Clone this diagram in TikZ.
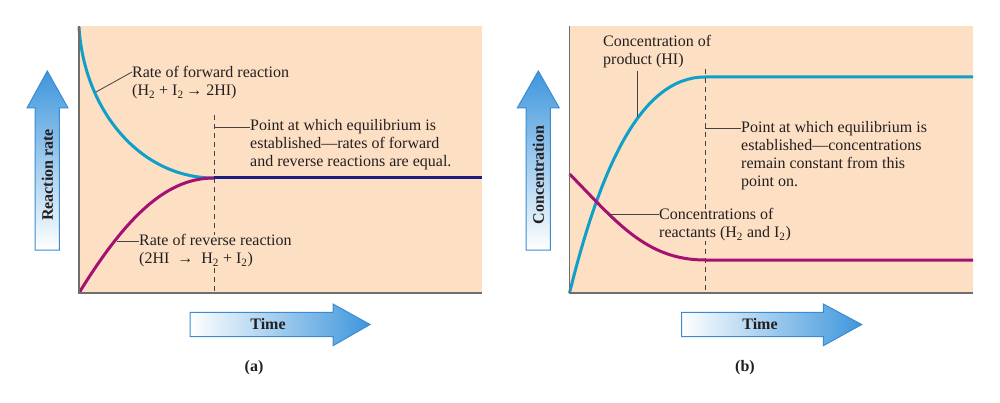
\documentclass[tikz,border=0pt]{standalone}
\usepackage{fontspec}
\setmainfont{Liberation Serif}
\definecolor{peach}{HTML}{FDDFC4}
\definecolor{cyanc}{HTML}{0EA0C8}
\definecolor{magc}{HTML}{A61072}
\definecolor{navyc}{HTML}{1E1E7E}
\definecolor{arrblue}{HTML}{3E96DC}
\definecolor{arredge}{HTML}{3A8CD2}
\definecolor{txt}{HTML}{231F20}
\definecolor{axisc}{HTML}{6E6E6E}
\tikzset{
  curve/.style={line width=3pt},
  leader/.style={draw=txt!85, line width=0.8pt},
  eqline/.style={draw=txt!85, line width=1pt, dash pattern=on 5pt off 4pt},
  axisline/.style={draw=axisc, line width=1.3pt},
  lbl/.style={font=\fontsize{16}{18}\selectfont, align=left, inner sep=0pt, anchor=north west, text=txt, fill=peach},
  bigarrow/.style={draw=arredge, line width=1pt},
  albl/.style={font=\bfseries\fontsize{16}{18}\selectfont, text=txt, inner sep=0pt},
}
\begin{document}
\begin{tikzpicture}[x=1pt,y=-1pt]
\useasboundingbox[fill=white] (0,0) rectangle (1000,403);

% ---------------- panel (a) ----------------
\fill[peach] (79,26) rectangle (482,293);
\draw[eqline] (214,115) -- (214,293);
\draw[curve, cyanc] (79,27) .. controls (84,110) and (140,178) .. (214,178);
\draw[curve, magc] (79,293) .. controls (130,210) and (170,178) .. (214,178);
\draw[curve, navyc] (214,178) -- (482,178);
\draw[axisline] (79,26) -- (79,293) -- (482,293);

\node[lbl] (fwd) at (132,66.5) {Rate of forward reaction\\(H\textsubscript{2} + I\textsubscript{2}\,→ 2HI)};
\coordinate (fwdpt) at (96,92);
\draw[leader] (fwdpt) -- (fwd.north west |- 0,72);

\node[lbl] (eqa) at (250,119.5) {Point at which equilibrium is\\established---rates of forward\\and reverse reactions are equal.};
\coordinate (eqapt) at (214,127);
\draw[leader] (eqapt) -- (eqa.west |- eqapt);

\node[lbl] (rev) at (139,234.5) {Rate of reverse reaction\\(2HI\enspace→\enspace H\textsubscript{2} + I\textsubscript{2})};
\coordinate (revpt) at (117,241);
\draw[leader] (revpt) -- (rev.west |- revpt);

\path[bigarrow, top color=arrblue, bottom color=white]
  (35,250) -- (35,108) -- (27,108) -- (47.3,71) -- (68,108) -- (59.3,108) -- (59.3,250) -- cycle;
\node[albl, rotate=90] (ya) at (47.5,175) {Reaction rate};
\path[bigarrow, left color=white, right color=arrblue]
  (190,312.3) -- (333,312.3) -- (333,304) -- (370,324.5) -- (333,345.7) -- (333,336.7) -- (190,336.7) -- cycle;
\node[albl] (xa) at (268,324.5) {Time};
\node[albl] (capa) at (254,368) {(a)};

% ---------------- panel (b) ----------------
\fill[peach] (569.5,26) rectangle (973,293);
\draw[eqline] (705,60) -- (705,293);
\draw[curve, cyanc] (569.5,293) .. controls (600,170) and (640,77) .. (705,77) -- (973,77);
\draw[curve, magc] (569.5,174) .. controls (615,220) and (645,260) .. (705,260) -- (973,260);
\draw[axisline] (569.5,26) -- (569.5,293) -- (973,293);

\node[lbl] (prod) at (603,35) {Concentration of\\product (HI)};
\coordinate (prodpt) at (637,117);
\draw[leader] (prodpt) -- (637,71);

\node[lbl] (eqb) at (741,121) {Point at which equilibrium is\\established---concentrations\\remain constant from this\\point on.};
\coordinate (eqbpt) at (705,128);
\draw[leader] (eqbpt) -- (eqb.west |- eqbpt);

\node[lbl] (react) at (659,208.5) {Concentrations of\\reactants (H\textsubscript{2} and I\textsubscript{2})};
\coordinate (reactpt) at (608,214);
\draw[leader] (reactpt) -- (react.west |- reactpt);

\path[bigarrow, top color=arrblue, bottom color=white]
  (526,250) -- (526,108) -- (517.3,108) -- (538.3,71) -- (559.3,108) -- (550.3,108) -- (550.3,250) -- cycle;
\node[albl, rotate=90] (yb) at (538.5,175) {Concentration};
\path[bigarrow, left color=white, right color=arrblue]
  (681.7,312.3) -- (823.3,312.3) -- (823.3,304) -- (861.7,324.5) -- (823.3,345.7) -- (823.3,336.7) -- (681.7,336.7) -- cycle;
\node[albl] (xb) at (760,324.5) {Time};
\node[albl] (capb) at (745,368) {(b)};
\end{tikzpicture}
\end{document}
